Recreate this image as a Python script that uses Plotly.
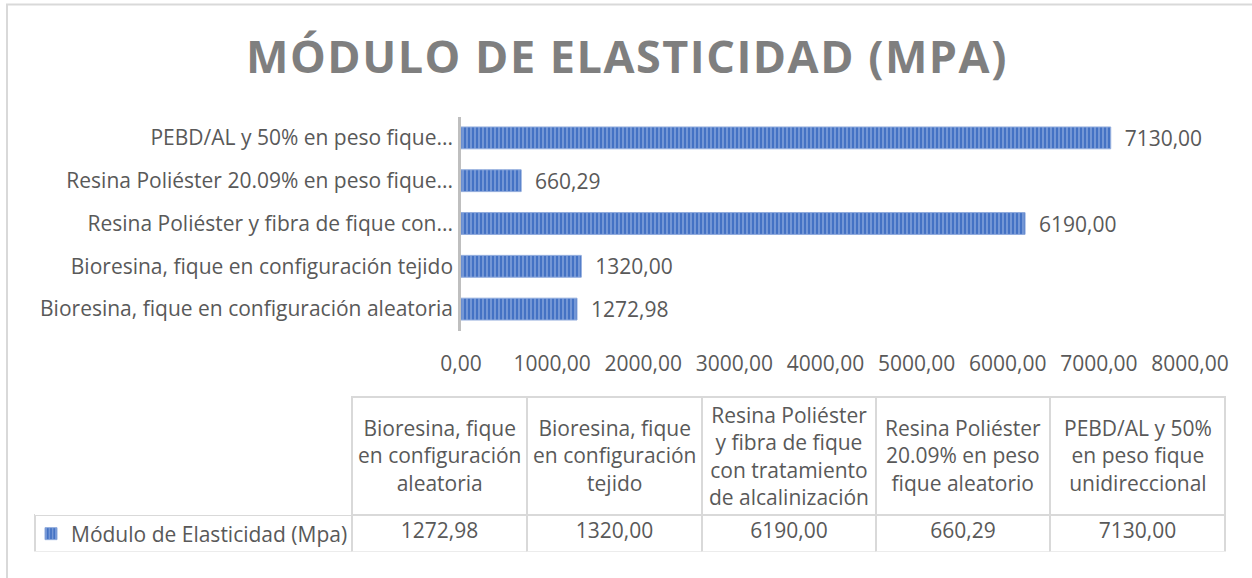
import plotly.graph_objects as go

# ---------------- data ----------------
categories = [
    "Bioresina, fique en configuración aleatoria",
    "Bioresina, fique en configuración tejido",
    "Resina Poliéster y fibra de fique con tratamiento de alcalinización",
    "Resina Poliéster 20.09% en peso fique aleatorio",
    "PEBD/AL y 50% en peso fique unidireccional",
]
axis_labels = [
    "Bioresina, fique en configuración aleatoria",
    "Bioresina, fique en configuración tejido",
    "Resina Poliéster y fibra de fique con...",
    "Resina Poliéster 20.09% en peso fique...",
    "PEBD/AL y 50% en peso fique...",
]
table_headers = [
    "Bioresina, fique<br>en configuración<br>aleatoria",
    "Bioresina, fique<br>en configuración<br>tejido",
    "Resina Poliéster<br>y fibra de fique<br>con tratamiento<br>de alcalinización",
    "Resina Poliéster<br>20.09% en peso<br>fique aleatorio",
    "PEBD/AL y 50%<br>en peso fique<br>unidireccional",
]
values = [1272.98, 1320.00, 6190.00, 660.29, 7130.00]
series_name = "Módulo de Elasticidad (Mpa)"
x_ticks = [0, 1000, 2000, 3000, 4000, 5000, 6000, 7000, 8000]
title_text = "MÓDULO DE ELASTICIDAD (MPA)"

# ---------------- styling / geometry ----------------
W, H = 1252, 578
FONT = "Open Sans"
TXT = "#595959"
BLUE = "#4472C4"
GRID = "#d9d9d9"

TABLE_LEFT = 35
COL_W = [317, 175, 175, 174, 174, 175]
TABLE_TOP, HEADER_H, ROW_H = 396.5, 118, 37


def fmt(v):
    return f"{v:.2f}".replace(".", ",")


def px_x(x):
    return x / W


def px_y(y):
    return 1 - y / H


fig = go.Figure()

fig.add_trace(go.Bar(
    x=values,
    y=categories,
    orientation="h",
    name=series_name,
    marker=dict(
        color=BLUE,
        line=dict(color="#8faadc", width=1),
        pattern=dict(shape="|", fillmode="overlay", fgcolor="#aec2ea",
                     size=4, solidity=0.45),
    ),
    text=["\u00a0\u00a0" + fmt(v) for v in values],
    textposition="outside",
    constraintext="none",
    cliponaxis=False,
    textfont=dict(family=FONT, size=21, color=TXT),
    showlegend=True,
    xaxis="x", yaxis="y",
))

# data table under the chart (grid + value row); header texts as annotations
table_right = TABLE_LEFT + sum(COL_W)
fig.add_trace(go.Table(
    domain=dict(x=[px_x(TABLE_LEFT), px_x(table_right)],
                y=[px_y(TABLE_TOP + HEADER_H + ROW_H), px_y(TABLE_TOP)]),
    columnwidth=COL_W,
    header=dict(
        values=[""] * (len(values) + 1),
        height=HEADER_H,
        fill=dict(color="white"),
        line=dict(color=["rgba(0,0,0,0)"] + [GRID] * len(values), width=2),
        font=dict(family=FONT, size=21, color=TXT),
    ),
    cells=dict(
        values=[[""]] + [[fmt(v)] for v in values],
        height=ROW_H,
        align=["left"] + ["center"] * len(values),
        fill=dict(color="white"),
        line=dict(color=GRID, width=2),
        font=dict(family=FONT, size=21, color=TXT),
    ),
))

edges = [TABLE_LEFT]
for w in COL_W:
    edges.append(edges[-1] + w)
for i, label in enumerate(table_headers):
    cx = (edges[i + 1] + edges[i + 2]) / 2
    fig.add_annotation(
        xref="paper", yref="paper",
        x=px_x(cx), y=px_y(TABLE_TOP + HEADER_H / 2),
        xanchor="center", yanchor="middle",
        text=label, align="center", showarrow=False,
        font=dict(family=FONT, size=21, color=TXT),
    )

# chart frame (only top/left edges visible in the reference crop)
fig.add_shape(type="rect", xref="paper", yref="paper",
              x0=px_x(7), x1=1.05, y0=-0.05, y1=px_y(4.5),
              line=dict(color=GRID, width=2), fillcolor="rgba(0,0,0,0)",
              layer="below")

fig.update_layout(
    width=W, height=H,
    autosize=False,
    margin=dict(l=0, r=0, t=0, b=0, autoexpand=False),
    paper_bgcolor="white",
    plot_bgcolor="white",
    separators=",.",
    bargap=0.49,
    font=dict(family=FONT, size=21, color=TXT),
    showlegend=True,
    legend=dict(
        x=px_x(31), y=px_y(TABLE_TOP + HEADER_H + ROW_H / 2 + 1),
        xanchor="left", yanchor="middle",
        bgcolor="rgba(0,0,0,0)",
        font=dict(family=FONT, size=21, color=TXT),
    ),
    title=dict(
        text=f"<span style='letter-spacing:1.5px'>{title_text}</span>",
        x=px_x(627), xanchor="center",
        y=px_y(57), yanchor="middle",
        font=dict(family=FONT, size=45, color="#7f7f7f", weight="bold"),
    ),
    xaxis=dict(
        domain=[px_x(461), px_x(1190)],
        range=[0, 8000],
        tickvals=x_ticks,
        tickformat=".2f",
        showgrid=False,
        zeroline=False,
        showline=False,
        ticks="",
        automargin=False,
        ticklabelstandoff=18,
        tickfont=dict(family=FONT, size=21, color=TXT),
    ),
    yaxis=dict(
        domain=[px_y(330.5), px_y(116.5)],
        type="category",
        categoryorder="array",
        categoryarray=categories,
        tickvals=categories,
        ticktext=axis_labels,
        showgrid=False,
        zeroline=False,
        showline=True,
        linecolor="#bfbfbf",
        linewidth=2.5,
        ticks="",
        automargin=False,
        ticklabelstandoff=1,
        tickfont=dict(family=FONT, size=21, color=TXT),
    ),
)

fig.write_html("out.html",
               config={"displayModeBar": False},
               post_script="document.body.style.margin='0';")
